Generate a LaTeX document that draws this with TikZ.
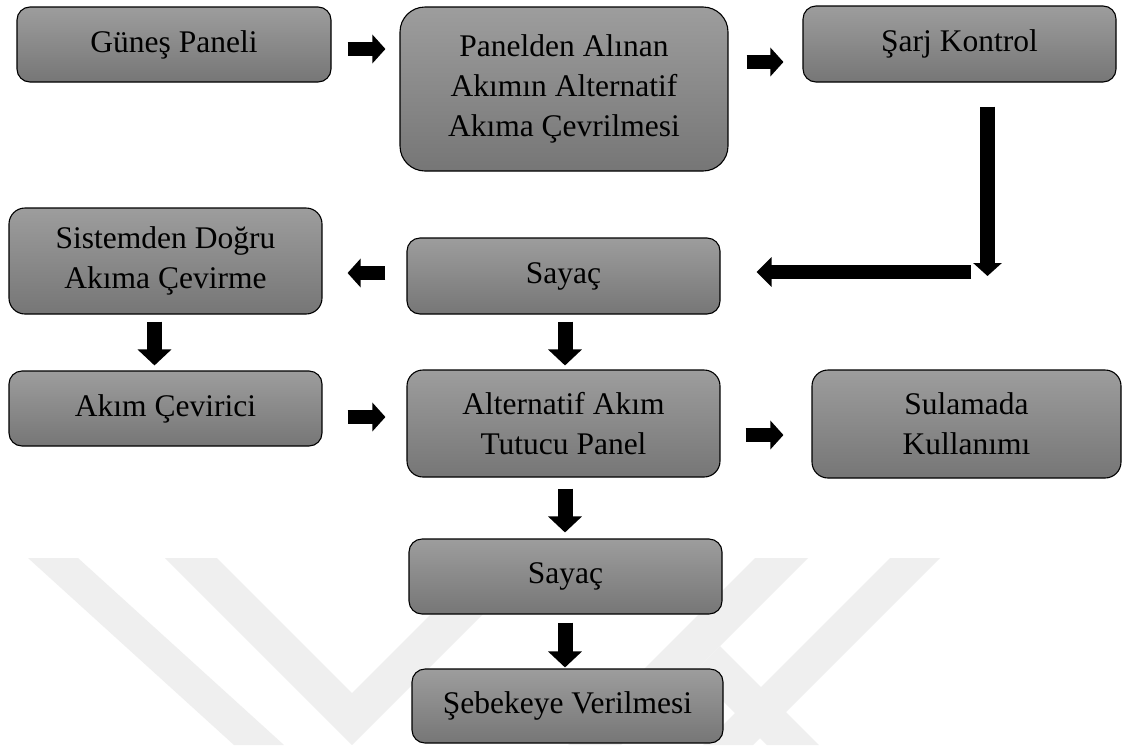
\documentclass[tikz,border=0pt]{standalone}
\usepackage{fontspec}
\setmainfont{Liberation Serif}
\newfontfamily\tnr{Liberation Serif}
\usetikzlibrary{arrows.meta,calc}
\definecolor{btop}{HTML}{9D9D9D}
\definecolor{bbot}{HTML}{767676}
\definecolor{wmark}{HTML}{EFEFEF}
\tikzset{
  box/.style={draw=black, line width=1.1pt, top color=btop, bottom color=bbot,
    rounded corners=13pt, inner sep=0pt, align=center,
    font=\tnr\fontsize{31.5}{40}\selectfont},
  harrow/.style={line width=14pt, -{Triangle[width=28pt,length=13pt]}},
  varrow/.style={line width=15pt, -{Triangle[width=33pt,length=16pt]}},
}
\begin{document}
\begin{tikzpicture}[x=1pt,y=-1pt]
\useasboundingbox[fill=white] (0,0) rectangle (1123,745);
% watermark
\fill[wmark] (28,558) -- (78,558) -- (284,745) -- (234,745) -- cycle;
\fill[wmark] (165,558) -- (217,558) -- (352,693) -- (487,558) -- (539,558) -- (352,745) -- cycle;
\fill[wmark] (755,558) -- (808,558) -- (621,745) -- (568,745) -- cycle;
\fill[wmark] (890,558) -- (940,558) -- (753,745) -- (703,745) -- cycle;
\fill[wmark] (720,646) -- (819,745) -- (767,745) -- (694,672) -- cycle;
% boxes
\node[box, minimum width=314pt, minimum height=75pt] (gunes) at (174,44.5) {Güneş Paneli};
\node[box, rounded corners=25pt, minimum width=328pt, minimum height=164pt] (panel) at (564,89) {Panelden Alınan\\Akımın Alternatif\\Akıma Çevrilmesi};
\node[box, minimum width=313pt, minimum height=76pt] (sarj) at (959.5,44) {Şarj Kontrol};
\node[box, rounded corners=16pt, minimum width=313pt, minimum height=106pt] (sis) at (165.5,261) {Sistemden Doğru\\Akıma Çevirme};
\node[box, minimum width=313pt, minimum height=76pt] (sayac1) at (563.5,276) {Sayaç};
\node[box, minimum width=313pt, minimum height=75pt] (akim) at (165.5,408.5) {Akım Çevirici};
\node[box, rounded corners=16pt, minimum width=313pt, minimum height=107pt] (alt) at (563.5,423.5) {Alternatif Akım\\Tutucu Panel};
\node[box, rounded corners=16pt, minimum width=309pt, minimum height=108pt] (sul) at (966.5,424) {Sulamada\\Kullanımı};
\node[box, minimum width=313pt, minimum height=75pt] (sayac2) at (565.5,576.5) {Sayaç};
\node[box, minimum width=311pt, minimum height=74pt] (seb) at (567.5,706) {Şebekeye Verilmesi};
% connector coordinates
\coordinate (c1) at (987.5,276);
\coordinate (c2) at (971,272);
% arrows
\draw[harrow, shorten <=16pt, shorten >=14pt] ([yshift=-4.5pt]gunes.east) -- ([yshift=40pt]panel.west);
\draw[harrow, shorten <=18pt, shorten >=19pt] ([yshift=27pt]panel.east) -- ([yshift=-18pt]sarj.west);
\draw[harrow, line width=15pt, shorten <=24pt] ([xshift=28pt]sarj.south) -- (c1);
\draw[harrow, -{Triangle[width=29pt,length=15pt]}, shorten >=36pt] (c2) -- (c2 -| sayac1.east);
\draw[harrow, shorten <=21pt, shorten >=25pt] ([yshift=3pt]sayac1.west) -- ([yshift=-12pt]sis.east);
\draw[varrow, shorten <=7pt, shorten >=5pt] ([xshift=-11pt]sis.south) -- ([xshift=-11pt]akim.north);
\draw[varrow, shorten <=7pt, shorten >=4pt] ([xshift=1.5pt]sayac1.south) -- ([xshift=1.5pt]alt.north);
\draw[harrow, shorten <=25pt, shorten >=21pt] ([yshift=-8.5pt]akim.east) -- ([yshift=6.5pt]alt.west);
\draw[harrow, shorten <=25pt, shorten >=28pt] ([yshift=-11.5pt]alt.east) -- ([yshift=-11pt]sul.west);
\draw[varrow, shorten <=11pt, shorten >=6pt] ([xshift=1.5pt]alt.south) -- ([xshift=-0.5pt]sayac2.north);
\draw[varrow, shorten <=8pt, shorten >=1pt] ([xshift=-0.5pt]sayac2.south) -- ([xshift=-2.5pt]seb.north);
\end{tikzpicture}
\end{document}
